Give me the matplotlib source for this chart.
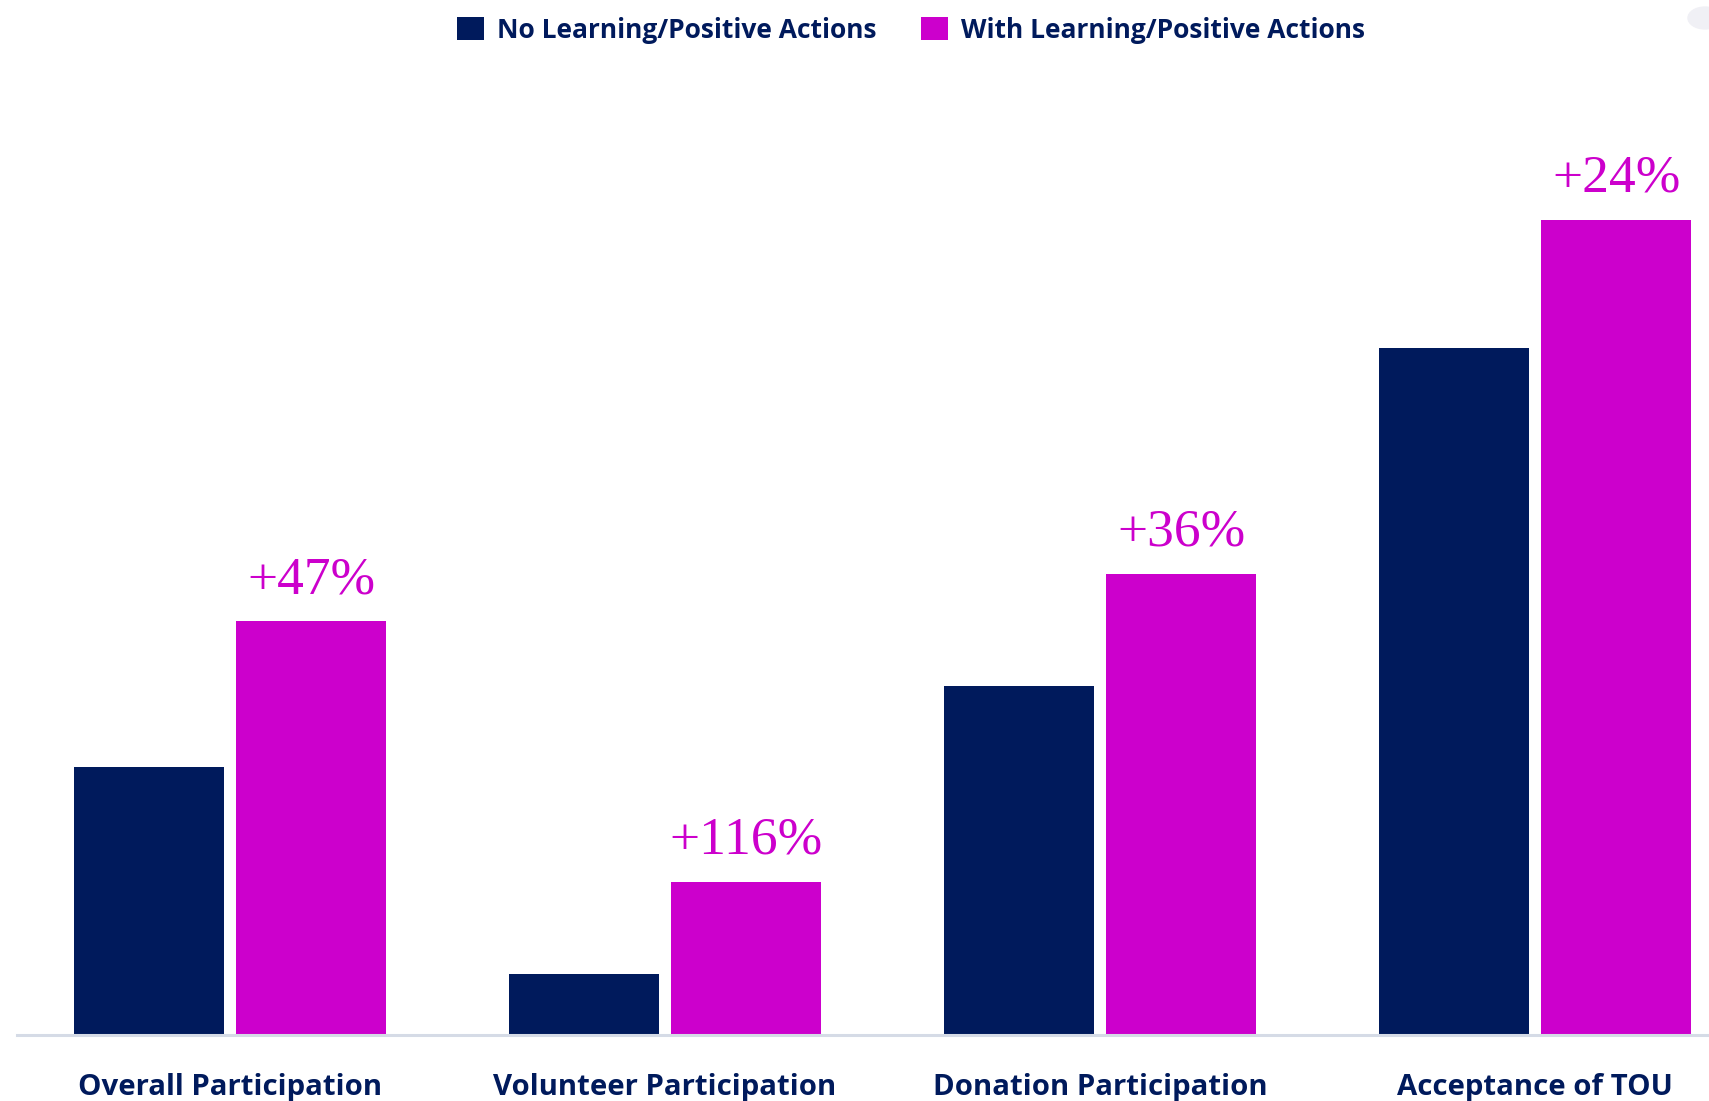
import matplotlib.pyplot as plt
import numpy as np
from matplotlib.patches import Circle

# values (relative bar heights)
categories = ["Overall Participation", "Volunteer Participation",
              "Donation Participation", "Acceptance of TOU"]
no_learning = [26.8, 6.1, 34.9, 68.7]
with_learning = [41.4, 15.3, 46.1, 81.5]
uplift = ["+47%", "+116%", "+36%", "+24%"]
series_names = ["No Learning/Positive Actions", "With Learning/Positive Actions"]

navy = "#001a5c"
magenta = "#cc00cc"

fig = plt.figure(figsize=(17.09, 11.01), dpi=100)
ax = fig.add_axes([17 / 1709, 66 / 1101, 1692 / 1709, 1035 / 1101])

x = np.arange(len(categories))
w = 0.344
off = 0.1865
b1 = ax.bar(x - off, no_learning, w, color=navy, label=series_names[0])
b2 = ax.bar(x + off, with_learning, w, color=magenta, label=series_names[1])

for xi, v, t in zip(x, with_learning, uplift):
    ax.text(xi + off, v + 2.8, t, ha="center", va="baseline",
            family="Liberation Serif", fontsize=38.5, color=magenta)

ax.set_xlim(-0.49, 3.40)
ax.set_ylim(0, 103.5)
ax.set_xticks(x)
ax.set_xticklabels(categories, family="Open Sans", fontweight="bold",
                   fontsize=21.2, color=navy)
ax.tick_params(axis="x", length=0, pad=27)
ax.set_yticks([])
for s in ["top", "left", "right"]:
    ax.spines[s].set_visible(False)
ax.spines["bottom"].set_color("#d5dbe6")
ax.spines["bottom"].set_linewidth(2.2)

leg = fig.legend(handles=[b1, b2], labels=series_names, loc="center",
                 bbox_to_anchor=(911 / 1709, 1 - 30 / 1101), ncol=2,
                 frameon=False, handlelength=1.0, handleheight=1.0,
                 handletextpad=0.5, columnspacing=1.7,
                 prop={"family": "Open Sans", "weight": "bold", "size": 19})
for t in leg.get_texts():
    t.set_color(navy)

# small grey circle in the top-right corner of the screenshot
fig.patches.append(Circle((1705 / 1709, 1 - 18 / 1101), 17 / 1709,
                          transform=fig.transFigure, color="#f0f0f5",
                          zorder=0))

fig.savefig("out.png", dpi=100)
